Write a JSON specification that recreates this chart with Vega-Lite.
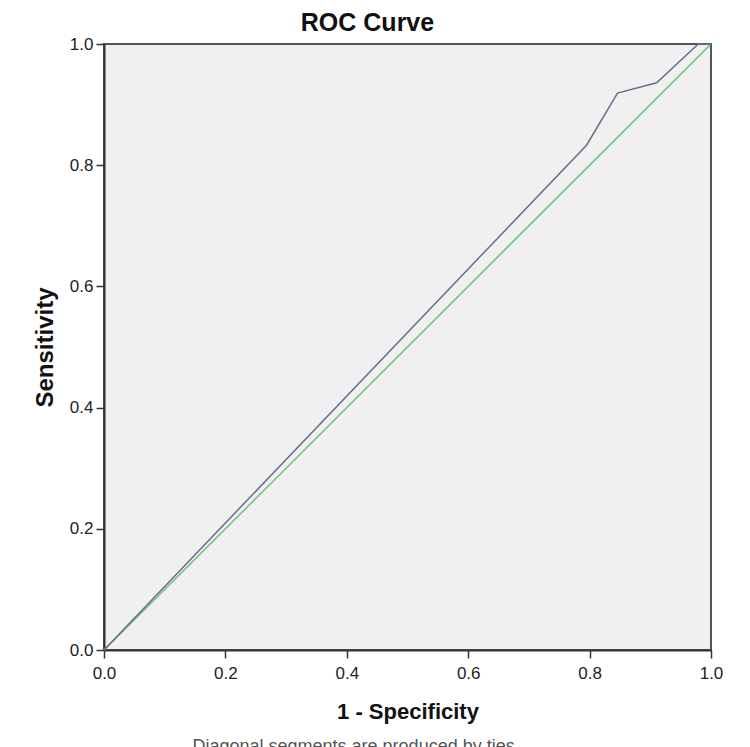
{
  "$schema": "https://vega.github.io/schema/vega-lite/v6.json",
  "autosize": "none",
  "padding": {"left": 104, "top": 44, "right": 39, "bottom": 97},
  "width": 607,
  "height": 606,
  "background": "white",
  "config": {
    "font": "Liberation Sans",
    "view": {"fill": "#f0f0f0", "stroke": "#555555", "strokeWidth": 2},
    "axis": {
      "domainColor": "#333333", "domainWidth": 2,
      "tickColor": "#333333", "tickWidth": 1.5, "tickSize": 8,
      "labelFont": "Liberation Sans", "labelFontSize": 17, "labelColor": "#222222",
      "titleFont": "Liberation Sans", "titleFontSize": 22, "titleFontWeight": "bold", "titleColor": "#111111",
      "grid": false
    }
  },
  "title": {"text": "Diagonal segments are produced by ties.", "orient": "bottom", "fontSize": 18, "fontWeight": "normal", "font": "Liberation Sans", "color": "#555555", "anchor": "middle", "frame": "bounds", "offset": 16, "dx": -22},
  "datasets": {
    "curve": [
      {"fpr": 0.0, "tpr": 0.0},
      {"fpr": 0.795, "tpr": 0.833},
      {"fpr": 0.846, "tpr": 0.919},
      {"fpr": 0.9105, "tpr": 0.936},
      {"fpr": 0.979, "tpr": 1.0},
      {"fpr": 1.0, "tpr": 1.0}
    ],
    "ref": [
      {"fpr": 0.0, "tpr": 0.0},
      {"fpr": 1.0, "tpr": 1.0}
    ]
  },
  "resolve": {"axis": {"x": "independent"}},
  "layer": [
    {
      "data": {"name": "ref"},
      "mark": {"type": "line", "color": "#62c47a", "strokeWidth": 1.5},
      "encoding": {
        "x": {"field": "fpr", "type": "quantitative", "scale": {"domain": [0, 1], "nice": false, "zero": false}, "axis": {"title": "1 - Specificity", "values": [0, 0.2, 0.4, 0.6, 0.8, 1.0], "format": ".1f", "labelPadding": 7, "titlePadding": 20, "labelFlush": false}},
        "y": {"field": "tpr", "type": "quantitative", "scale": {"domain": [0, 1], "nice": false, "zero": false}, "axis": {"title": "Sensitivity", "titleFontSize": 24, "values": [0, 0.2, 0.4, 0.6, 0.8, 1.0], "format": ".1f", "labelPadding": 3, "titlePadding": 12, "labelFlush": false}},
        "order": {"field": "fpr", "type": "quantitative"}
      }
    },
    {
      "data": {"name": "curve"},
      "mark": {"type": "line", "color": "#6b6d8f", "strokeWidth": 1.5},
      "encoding": {
        "x": {"field": "fpr", "type": "quantitative", "axis": {"orient": "top", "title": "ROC Curve", "titleFontSize": 25, "titlePadding": 9, "labels": false, "ticks": false, "domain": false, "titleX": 263}},
        "y": {"field": "tpr", "type": "quantitative"},
        "order": {"field": "fpr", "type": "quantitative"}
      }
    }
  ]
}
